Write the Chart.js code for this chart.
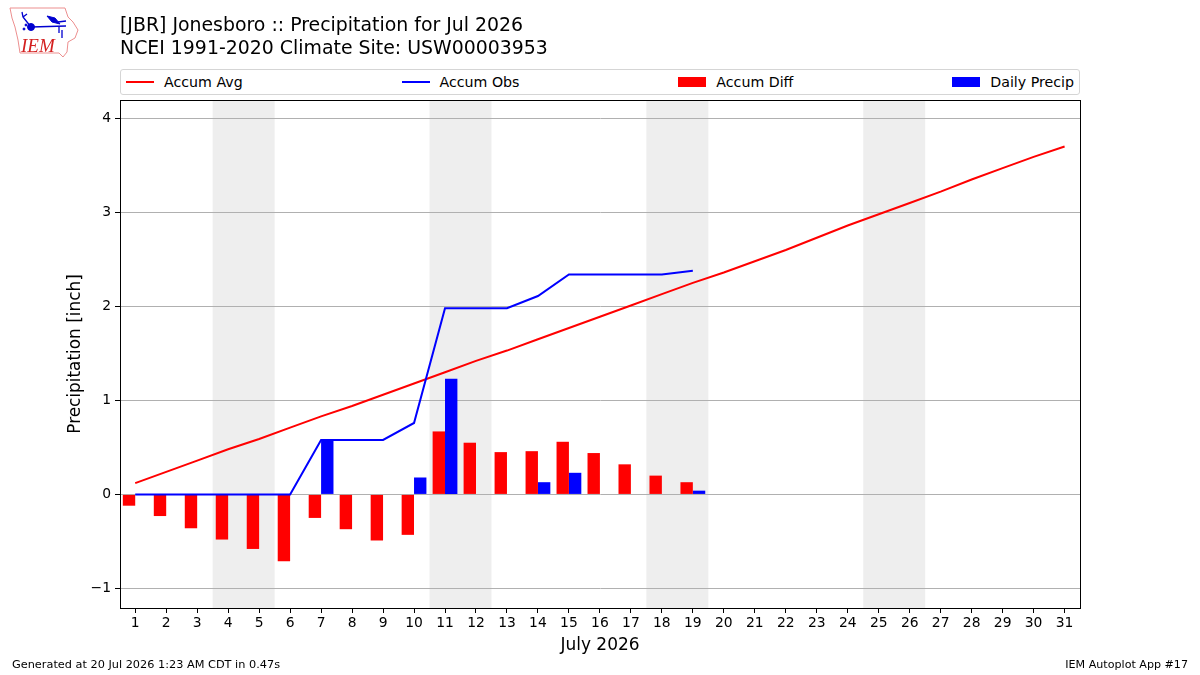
<!DOCTYPE html>
<html lang="en">
<head>
    <meta charset="UTF-8">
    <title>[JBR] Jonesboro :: Precipitation for Jul 2026</title>
    <script src="https://cdn.jsdelivr.net/npm/chart.js"></script>
    <style>
        html, body { margin: 0; padding: 0; background: #fff; }
        body { width: 1200px; height: 675px; position: relative; overflow: hidden; font-family: "DejaVu Sans", sans-serif; color: #000; }
        canvas { position: absolute; left: 0; top: 0; }
        #logo { position: absolute; left: 0; top: 0; }
        #title { position: absolute; left: 120px; top: 12.5px; font-size: 18.9px; line-height: 23px; white-space: nowrap; }
        #legend { position: absolute; left: 120px; top: 69px; width: 960px; height: 26px; box-sizing: border-box; padding: 0 5px; border: 1px solid #d5d5d5; border-radius: 3px; display: flex; justify-content: space-between; align-items: center; font-size: 14.2px; background: #fff; }
        #legend .item { display: flex; align-items: center; white-space: nowrap; }
        #legend .line { width: 28px; height: 2px; margin-right: 10px; }
        #legend .box { width: 28px; height: 10px; margin-right: 10px; }
        .foot { position: absolute; top: 658px; font-size: 11.11px; line-height: 14px; white-space: nowrap; }
    </style>
</head>
<body>
    <canvas id="precipChart" width="1200" height="675"></canvas>

    <svg id="logo" width="90" height="62" viewBox="0 0 90 62">
        <path d="M10 8 L65 8 L68 17 L73 22 L78 30 L75 38 L68 42 L67 52 L63 57 L59 53 L20 53 L18 40 L15 27 L12 18 Z" fill="#fff" stroke="#ec8f8f" stroke-width="1"/>
        <g stroke="#0000d0" fill="#0000d0">
            <path d="M31 27 L66 26" stroke-width="1.6"/>
            <circle cx="31" cy="27" r="3.5"/>
            <path d="M31 27 L23 17 M23 17 L22 12 M23 17 L27 14" stroke-width="1.3" fill="none"/>
            <path d="M47 16 L55 18 L60 24 L52 22 Z"/>
            <path d="M58 22 L66 21 M59 26 L59 33 M62 30 L62 38" stroke-width="1.3" fill="none"/>
            <circle cx="24" cy="29" r="1"/>
            <circle cx="26" cy="25" r="1"/>
        </g>
        <text x="21" y="52" font-family="Liberation Serif" font-style="italic" font-size="19" fill="#d42020">IEM</text>
    </svg>

    <div id="title">[JBR] Jonesboro :: Precipitation for Jul 2026<br>NCEI 1991-2020 Climate Site: USW00003953</div>
    <div id="legend"></div>
    <div class="foot" style="left: 12px; font-size: 11.3px;">Generated at 20 Jul 2026 1:23 AM CDT in 0.47s</div>
    <div class="foot" style="right: 12px;">IEM Autoplot App #17</div>

    <script>
        // day of month, 1..31
        const days = [1,2,3,4,5,6,7,8,9,10,11,12,13,14,15,16,17,18,19,20,21,22,23,24,25,26,27,28,29,30,31];
        const accumAvg = [0.12,0.24,0.36,0.48,0.59,0.71,0.83,0.94,1.06,1.18,1.30,1.42,1.53,1.65,1.77,1.89,2.01,2.13,2.25,2.36,2.48,2.60,2.73,2.86,2.98,3.10,3.22,3.35,3.47,3.59,3.70];
        // observations stop at the 19th
        const accumObs = [0,0,0,0,0,0,0.58,0.58,0.58,0.76,1.98,1.98,1.98,2.11,2.34,2.34,2.34,2.34,2.38];
        const accumDiff = [-0.12,-0.23,-0.36,-0.48,-0.58,-0.71,-0.25,-0.37,-0.49,-0.43,0.67,0.55,0.45,0.46,0.56,0.44,0.32,0.20,0.13];
        const dailyPrecip = [0,0,0,0,0,0,0.58,0,0,0.18,1.23,0,0,0.13,0.23,0,0,0,0.04];
        const yTicks = [-1,0,1,2,3,4];
        const yTickLabels = ['\u22121','0','1','2','3','4'];
        // weekends, as first and last day
        const weekends = [[4,5],[11,12],[18,19],[25,26]];

        const toPoints = vals => vals.map((v, i) => ({ x: days[i], y: v }));
        const fontFamily = '"DejaVu Sans", sans-serif';

        // grey bands go under the grid
        const weekendBands = {
            id: 'weekendBands',
            beforeDraw(chart) {
                const { ctx, chartArea, scales } = chart;
                ctx.save();
                ctx.fillStyle = '#eeeeee';
                weekends.forEach(w => {
                    const x0 = scales.x.getPixelForValue(w[0] - 0.5);
                    const x1 = scales.x.getPixelForValue(w[1] + 0.5);
                    ctx.fillRect(x0, chartArea.top, x1 - x0, chartArea.bottom - chartArea.top);
                });
                ctx.restore();
            }
        };

        // closed black frame on top of everything
        const plotFrame = {
            id: 'plotFrame',
            afterDraw(chart) {
                const { ctx, chartArea } = chart;
                ctx.save();
                ctx.strokeStyle = '#000';
                ctx.lineWidth = 1;
                ctx.strokeRect(Math.round(chartArea.left) + 0.5, Math.round(chartArea.top) + 0.5,
                    Math.round(chartArea.right - chartArea.left), Math.round(chartArea.bottom - chartArea.top));
                ctx.restore();
            }
        };

        const ctx = document.getElementById('precipChart').getContext('2d');
        const precipChart = new Chart(ctx, {
            type: 'line',
            data: {
                datasets: [
                    { type: 'line', label: 'Accum Avg', data: toPoints(accumAvg), borderColor: '#ff0000', backgroundColor: '#ff0000', borderWidth: 2, pointRadius: 0, tension: 0, fill: false, order: 1 },
                    { type: 'line', label: 'Accum Obs', data: toPoints(accumObs), borderColor: '#0000ff', backgroundColor: '#0000ff', borderWidth: 2, pointRadius: 0, tension: 0, fill: false, order: 0 },
                    { type: 'bar', label: 'Accum Diff', data: toPoints(accumDiff), backgroundColor: '#ff0000', categoryPercentage: 0.8, barPercentage: 1, order: 2 },
                    { type: 'bar', label: 'Daily Precip', data: toPoints(dailyPrecip), backgroundColor: '#0000ff', categoryPercentage: 0.8, barPercentage: 1, order: 2 }
                ]
            },
            options: {
                responsive: false,
                animation: false,
                layout: { padding: { left: 0, right: 120, top: 100, bottom: 0 } },
                plugins: { legend: { display: false }, title: { display: false }, tooltip: { enabled: false } },
                scales: {
                    x: {
                        type: 'linear',
                        offset: false,
                        min: 0.509,
                        max: 31.497,
                        afterBuildTicks: scale => { scale.ticks = days.map(d => ({ value: d })); },
                        afterFit: scale => { scale.height = 67; },
                        ticks: { color: '#000', autoSkip: false, maxRotation: 0, padding: 2, font: { family: fontFamily, size: 13.89 }, callback: v => String(v) },
                        grid: { offset: false, drawOnChartArea: false, drawTicks: true, tickLength: 5, tickColor: '#000', color: '#000' },
                        border: { color: '#000' },
                        title: { display: true, text: 'July 2026', color: '#000', font: { family: fontFamily, size: 17 }, padding: { top: 0, bottom: 19 } }
                    },
                    y: {
                        min: -1.208,
                        max: 4.195,
                        afterBuildTicks: scale => { scale.ticks = yTicks.map(v => ({ value: v })); },
                        afterFit: scale => { scale.width = 120; },
                        ticks: { color: '#000', padding: 4, font: { family: fontFamily, size: 13.89 }, callback: v => yTickLabels[yTicks.indexOf(v)] },
                        grid: { color: '#b0b0b0', lineWidth: 1, tickLength: 5, tickColor: '#000' },
                        border: { color: '#000' },
                        title: { display: true, text: 'Precipitation [inch]', color: '#000', font: { family: fontFamily, size: 16.9 }, padding: { top: 65, bottom: 0 } }
                    }
                }
            },
            plugins: [weekendBands, plotFrame]
        });

        // legend row is plain html, spread over the plot width
        const legendBox = document.getElementById('legend');
        precipChart.data.datasets.forEach(ds => {
            const item = document.createElement('div');
            item.className = 'item';
            const key = document.createElement('span');
            key.className = ds.type === 'bar' ? 'box' : 'line';
            key.style.background = ds.backgroundColor;
            item.appendChild(key);
            item.appendChild(document.createTextNode(ds.label));
            legendBox.appendChild(item);
        });
    </script>
</body>
</html>
